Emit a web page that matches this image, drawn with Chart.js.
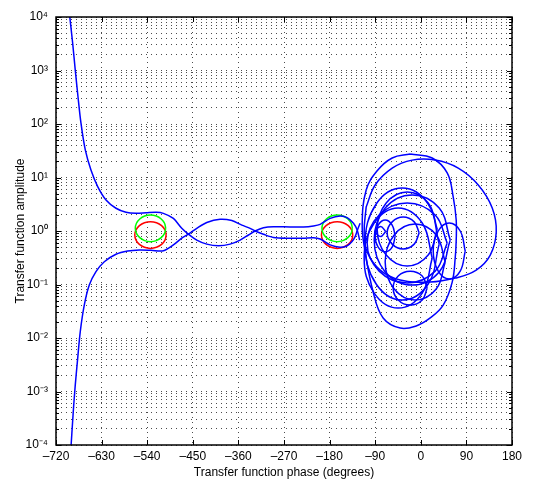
<!DOCTYPE html>
<html>
<head>
<meta charset="utf-8">
<script src="https://cdn.jsdelivr.net/npm/chart.js@4.4.0/dist/chart.umd.min.js"></script>
<style>
  body { margin: 0; background: #fff; }
  canvas { display: block; }
</style>
</head>
<body>
<canvas id="nichols" width="534" height="482"></canvas>
<script>
// phase in degrees, gain in dB
const upperPhase = [-695.4, -687.1, -682.0, -676.6, -670.7, -662.2, -651.0, -637.7, -621.3, -601.6, -581.8, -562.1, -542.3, -522.6, -508.1, -488.3, -471.8, -458.7, -442.2, -422.4, -399.4, -376.3, -356.6, -340.2, -327.0, -310.5, -290.8, -257.8, -231.5, -211.8, -198.6, -178.9, -159.2, -145.4, -132.9, -125.6, -120.7];
const upperGain = [84.5, 70.2, 60.2, 50.2, 40.3, 30.3, 22.8, 16.6, 11.6, 8.5, 7.0, 6.6, 6.8, 7.0, 6.6, 4.7, 1.0, -1.2, -3.4, -4.9, -5.5, -4.9, -3.4, -1.5, 0.0, 1.2, 1.6, 1.5, 1.5, 1.9, 2.5, 4.7, 5.6, 5.0, 2.9, 0.4, -3.4];

const lowerPhase = [-691.4, -685.9, -682.0, -677.2, -672.1, -664.2, -654.3, -641.1, -624.7, -601.6, -578.5, -555.6, -532.5, -508.1, -488.3, -471.8, -458.7, -442.2, -422.4, -396.1, -373.0, -353.2, -336.8, -327.0, -310.5, -290.8, -257.8, -231.5, -211.8, -198.6, -178.9, -159.2, -146.0, -136.1, -129.6, -125.0, -119.7];
const lowerGain = [-83.7, -67.5, -57.6, -47.6, -37.6, -27.7, -20.2, -15.2, -11.5, -8.7, -7.5, -7.1, -7.2, -7.4, -5.2, -2.7, -1.2, 1.0, 3.2, 4.4, 3.9, 2.2, 1.0, 0.0, -1.2, -2.4, -2.7, -2.7, -2.5, -3.0, -5.2, -6.1, -5.6, -4.0, -2.1, 0.4, 2.9];

// loops near 0 degrees
const loopTallPhase = [-20.9, 22.5, 52.1, 64.0, 69.9, 69.9, 67.9, 62.0, 44.2, 18.6, -9.1, -40.7, -74.3, -94.0, -109.8, -115.7, -107.8, -86.1, -56.5, -20.9];
const loopTallGain = [28.8, 27.3, 21.7, 12.7, 4.1, -3.4, -10.1, -19.1, -27.7, -32.5, -35.5, -36.3, -32.5, -22.8, -7.8, 2.2, 15.3, 22.5, 27.3, 28.8];
const loopWidePhase = [-107.8, -90.1, -56.5, -17.0, 28.4, 73.9, 113.4, 141.0, 148.9, 137.1, 109.4, 67.9, 18.6, -40.7, -80.2, -105.9, -111.8, -107.8];
const loopWideGain = [9.0, 17.2, 23.5, 26.5, 26.5, 23.5, 17.2, 8.6, -0.4, -9.0, -14.6, -17.6, -19.1, -18.3, -14.6, -7.8, -0.4, 9.0];
const loopAPhase = [32.4, 14.6, -26.9, -68.3, -86.1, -68.3, -26.9, 14.6, 32.4];
const loopAGain = [0.7, 10.5, 14.6, 10.5, 0.7, -9.0, -13.1, -9.0, 0.7];
const loopBPhase = [52.1, 28.4, -26.9, -82.2, -105.9, -82.2, -26.9, 28.4, 52.1];
const loopBGain = [-4.5, 6.0, 10.5, 6.0, -4.5, -15.0, -19.4, -15.0, -4.5];
const loopCPhase = [-3.2, -13.0, -34.8, -56.5, -66.4, -56.5, -34.8, -13.0, -3.2];
const loopCGain = [-0.7, 3.4, 5.2, 3.4, -0.7, -4.9, -6.7, -4.9, -0.7];
const loopEPhase = [12.6, 2.8, -20.9, -44.6, -54.5, -44.6, -20.9, 2.8, 12.6];
const loopEGain = [-21.3, -16.8, -15.0, -16.8, -21.3, -25.8, -27.7, -25.8, -21.3];
const loopFPhase = [87.7, 77.8, 56.1, 34.4, 24.5, 34.4, 56.1, 77.8, 87.7];
const loopFGain = [-7.5, 0.0, 3.0, 0.0, -7.5, -15.0, -17.9, -15.0, -7.5];
const loopGPhase = [-50.6, -56.5, -70.3, -84.2, -90.1, -84.2, -70.3, -56.5, -50.6];
const loopGGain = [-1.9, 2.2, 4.1, 2.2, -1.9, -6.0, -7.8, -6.0, -1.9];
const loopHPhase = [36.3, 14.6, -36.7, -88.1, -109.8, -88.1, -36.7, 14.6, 36.3];
const loopHGain = [-4.9, 10.1, 16.1, 10.1, -4.9, -19.8, -25.8, -19.8, -4.9];
const loopIPhase = [58.1, 36.3, -17.0, -70.3, -92.0, -70.3, -17.0, 36.3, 58.1];
const loopIGain = [-3.4, 8.6, 13.5, 8.6, -3.4, -15.3, -20.2, -15.3, -3.4];
const loopJPhase = [22.5, 2.8, -44.6, -92.0, -111.8, -92.0, -44.6, 2.8, 22.5];
const loopJGain = [-10.1, 3.0, 8.6, 3.0, -10.1, -23.2, -28.8, -23.2, -10.1];
const loopKPhase = [48.2, 30.4, -11.1, -52.5, -70.3, -52.5, -11.1, 30.4, 48.2];
const loopKGain = [-11.6, -1.5, 2.6, -1.5, -11.6, -21.7, -25.8, -21.7, -11.6];
const loopTinyPhase = [-69.3, -79.2, -89.1, -79.2, -69.3];
const loopTinyGain = [-0.2, 1.7, -0.2, -2.1, -0.2];

// red and green circles around the critical points
const redLeftPhase = [-502.5, -504.9, -511.6, -521.6, -533.5, -545.4, -555.4, -562.1, -564.5, -562.1, -555.4, -545.4, -533.5, -521.6, -511.6, -504.9, -502.5];
const redRightPhase = [-134.1, -136.5, -143.2, -153.2, -165.1, -177.0, -187.0, -193.7, -196.1, -193.7, -187.0, -177.0, -165.1, -153.2, -143.2, -136.5, -134.1];
const redGain = [-1.5, 0.4, 2.0, 3.1, 3.5, 3.1, 2.0, 0.4, -1.5, -3.4, -5.0, -6.1, -6.5, -6.1, -5.0, -3.4, -1.5];
const greenLeftPhase = [-503.5, -505.8, -512.3, -522.0, -533.5, -545.0, -554.7, -561.2, -563.5, -561.2, -554.7, -545.0, -533.5, -522.0, -512.3, -505.8, -503.5];
const greenRightPhase = [-135.1, -137.4, -143.9, -153.6, -165.1, -176.6, -186.3, -192.8, -195.1, -192.8, -186.3, -176.6, -165.1, -153.6, -143.9, -137.4, -135.1];
const greenGain = [1.0, 2.9, 4.5, 5.6, 6.0, 5.6, 4.5, 2.9, 1.0, -0.9, -2.5, -3.6, -4.0, -3.6, -2.5, -0.9, 1.0];

// axis ticks
const phaseTicks = [-720, -630, -540, -450, -360, -270, -180, -90, 0, 90, 180];
const ampDecades = [1e-4, 1e-3, 1e-2, 1e-1, 1, 1e1, 1e2, 1e3, 1e4];
const ampLabels = ['10\u207B\u2074', '10\u207B\u00B3', '10\u207B\u00B2', '10\u207B\u00B9', '10\u2070', '10\u00B9', '10\u00B2', '10\u00B3', '10\u2074'];

const FONT = "'Liberation Sans', Arial, Helvetica, sans-serif";

function toPoints(phase, gain) {
    return phase.map((p, i) => ({ x: p, y: Math.pow(10, gain[i] / 20) }));
}

function curve(phase, gain, color, tension) {
    return {
        data: toPoints(phase, gain),
        borderColor: color,
        borderWidth: 1.5,
        showLine: true,
        pointRadius: 0,
        tension: tension,
        fill: false,
    };
}

// minor grid values: 1..9 in every decade
const ampGrid = [];
ampDecades.forEach((d, i) => {
    if (i === ampDecades.length - 1) {
        ampGrid.push(d);
        return;
    }
    for (let m = 1; m < 10; m++) ampGrid.push(m * d);
});

const framePlugin = {
    id: "frame",
    afterDraw(chart) {
        const ctx = chart.ctx;
        const a = chart.chartArea;
        const xs = chart.scales.x;
        const ys = chart.scales.y;
        ctx.save();
        ctx.strokeStyle = "#000";
        ctx.lineWidth = 1;
        ctx.beginPath();
        phaseTicks.forEach((v) => {
            const px = Math.round(xs.getPixelForValue(v)) + 0.5;
            ctx.moveTo(px, a.bottom);
            ctx.lineTo(px, a.bottom - 5);
            ctx.moveTo(px, a.top);
            ctx.lineTo(px, a.top + 5);
        });
        ampGrid.forEach((v) => {
            const py = Math.round(ys.getPixelForValue(v)) + 0.5;
            const len = ampDecades.includes(v) ? 5 : 3;
            ctx.moveTo(a.left, py);
            ctx.lineTo(a.left + len, py);
            ctx.moveTo(a.right, py);
            ctx.lineTo(a.right - len, py);
        });
        ctx.stroke();
        ctx.lineWidth = 1.5;
        ctx.strokeRect(a.left, a.top, a.right - a.left, a.bottom - a.top);
        ctx.restore();
    },
};

const BLUE = "#0000ff";
const loops = [
    [loopTallPhase, loopTallGain], [loopWidePhase, loopWideGain],
    [loopAPhase, loopAGain], [loopBPhase, loopBGain], [loopCPhase, loopCGain],
    [loopEPhase, loopEGain], [loopFPhase, loopFGain], [loopGPhase, loopGGain],
    [loopHPhase, loopHGain], [loopIPhase, loopIGain], [loopJPhase, loopJGain],
    [loopKPhase, loopKGain], [loopTinyPhase, loopTinyGain],
];

const datasets = [
    curve(upperPhase, upperGain, BLUE, 0.3),
    curve(lowerPhase, lowerGain, BLUE, 0.3),
    ...loops.map((l) => curve(l[0], l[1], BLUE, 0.4)),
    curve(greenLeftPhase, greenGain, "#00ff00", 0.4),
    curve(greenRightPhase, greenGain, "#00ff00", 0.4),
    curve(redLeftPhase, redGain, "#ff0000", 0.4),
    curve(redRightPhase, redGain, "#ff0000", 0.4),
];

new Chart(document.getElementById("nichols"), {
    type: "scatter",
    data: { datasets: datasets },
    options: {
        responsive: false,
        animation: false,
        layout: { padding: { left: 0, right: 22, top: 17, bottom: 0 } },
        plugins: {
            legend: { display: false },
            tooltip: { enabled: false },
        },
        scales: {
            x: {
                type: "linear",
                min: -720,
                max: 180,
                afterBuildTicks: (scale) => {
                    scale.ticks = phaseTicks.map((v) => ({ value: v }));
                },
                afterFit: (scale) => {
                    scale.height = 37;
                },
                ticks: {
                    autoSkip: false,
                    maxRotation: 0,
                    padding: 4,
                    color: "#000",
                    font: { family: FONT, size: 12 },
                    callback: (v) => String(v).replace("-", "\u2013"),
                },
                grid: { color: "rgba(0,0,0,0.7)", lineWidth: 1, drawTicks: false },
                border: { display: false, dash: [1, 4] },
                title: {
                    display: true,
                    text: "Transfer function phase (degrees)",
                    color: "#000",
                    font: { family: FONT, size: 12 },
                    padding: { top: 0, bottom: 2 },
                },
            },
            y: {
                type: "logarithmic",
                min: 1e-4,
                max: 1e4,
                afterBuildTicks: (scale) => {
                    scale.ticks = ampGrid.map((v) => ({ value: v }));
                },
                afterFit: (scale) => {
                    scale.width = 56;
                },
                ticks: {
                    autoSkip: false,
                    padding: 8,
                    color: "#000",
                    font: { family: FONT, size: 12 },
                    callback: (v) => {
                        const i = ampDecades.findIndex((d) => Math.abs(d - v) < d * 1e-6);
                        return i >= 0 ? ampLabels[i] : "";
                    },
                },
                grid: { color: "rgba(0,0,0,0.7)", lineWidth: 1, drawTicks: false },
                border: { display: false, dash: [1, 4] },
                title: {
                    display: true,
                    text: "Transfer function amplitude",
                    color: "#000",
                    font: { family: FONT, size: 12 },
                    padding: { top: 13, bottom: 0 },
                },
            },
        },
    },
    plugins: [framePlugin],
});
</script>
</body>
</html>
